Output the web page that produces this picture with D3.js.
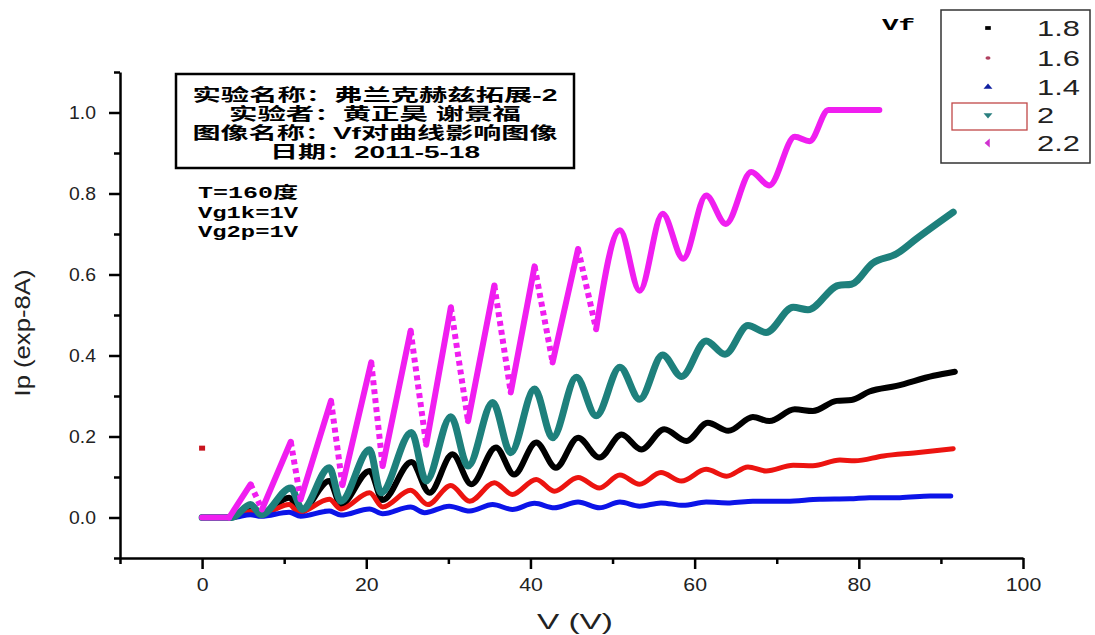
<!DOCTYPE html>
<html>
<head>
<meta charset="utf-8">
<script src="https://cdn.jsdelivr.net/npm/d3@7"></script>
<style>
  html, body { margin: 0; padding: 0; background: #fff; }
  svg { display: block; }
</style>
</head>
<body>
<svg id="chart" width="1095" height="635"></svg>
<script>
// Franck-Hertz curves, plate current Ip (1e-8 A) against accelerating voltage V (V),
// one series per filament voltage Vf. Each entry is [V, Ip].
const vf18 = [[0,0],[3.5,0],[5.9,0.02],[7.2,0.01],[10.6,0.049],[12.0,0.014],[15.5,0.09],[16.9,0.032],
  [20.4,0.115],[22.0,0.043],[25.5,0.137],[27.7,0.061],[30.5,0.156],[32.8,0.082],[35.8,0.173],[38.0,0.106],
  [40.7,0.185],[43.1,0.123],[45.8,0.197],[48.4,0.148],[51.1,0.205],[53.5,0.168],[56.3,0.218],[59.0,0.189],
  [61.6,0.234],[64.1,0.214],[67.1,0.248],[69.1,0.238],[72.2,0.267],[74.4,0.263],[77.3,0.288],[79.1,0.29],
  [81.3,0.311],[84.6,0.325],[89.1,0.35],[91.7,0.36]];

const vf16 = [[0,0],[3.8,0],[5.9,0.015],[7.2,0.008],[10.6,0.032],[11.8,0.012],[15.5,0.045],[16.9,0.021],
  [20.4,0.061],[22.0,0.026],[25.4,0.067],[27.5,0.032],[30.3,0.079],[32.6,0.04],[35.6,0.086],[37.8,0.057],
  [40.7,0.094],[42.9,0.065],[45.8,0.099],[48.4,0.073],[50.9,0.105],[53.3,0.082],[55.9,0.111],[58.4,0.09],
  [61.4,0.119],[63.9,0.102],[66.5,0.125],[68.7,0.115],[72.0,0.129],[74.4,0.128],[77.7,0.142],[79.5,0.14],
  [83.0,0.152],[87.0,0.16],[91.5,0.17]];

// stray reading of the 1.6 run at V = 0
const vf16Stray = [[0,0.17]];

const vf14 = [[0,0],[3.7,0],[5.9,0.007],[7.2,0.003],[10.6,0.013],[12.0,0.003],[15.5,0.016],[16.9,0.006],
  [20.4,0.021],[22.0,0.009],[25.4,0.026],[27.1,0.012],[30.1,0.028],[32.6,0.016],[35.4,0.032],[37.8,0.02],
  [40.5,0.035],[42.9,0.024],[45.8,0.038],[48.4,0.024],[50.9,0.038],[53.3,0.028],[55.9,0.036],[58.6,0.03],
  [61.4,0.038],[64.3,0.036],[67.1,0.04],[71.2,0.04],[75.2,0.045],[78.9,0.046],[81.3,0.049],[85.0,0.049],
  [88.7,0.053],[91.2,0.053]];

const vf20 = [[0,0],[3.6,0],[5.9,0.032],[7.2,0.007],[10.8,0.073],[12.2,0.02],[15.5,0.123],[16.9,0.04],
  [20.4,0.167],[21.8,0.061],[25.5,0.21],[27.3,0.09],[30.3,0.249],[32.4,0.127],[35.4,0.284],[37.6,0.16],
  [40.5,0.317],[42.7,0.197],[45.6,0.346],[48.0,0.251],[50.9,0.371],[53.3,0.292],[56.1,0.401],[58.4,0.348],
  [61.4,0.436],[63.7,0.403],[66.5,0.474],[68.7,0.457],[72.0,0.519],[73.8,0.513],[77.5,0.573],[79.1,0.576],
  [81.7,0.628],[84.6,0.651],[87.0,0.688],[91.5,0.754]];

const vf22 = [[0,0],[3.3,0],[5.9,0.082],[7.3,0.02],[10.8,0.187],[12.0,0.045],[15.7,0.288],[17.1,0.08],
  [20.6,0.383],[22.0,0.127],[25.4,0.461],[27.3,0.18],[30.3,0.519],[32.4,0.238],[35.6,0.573],[37.6,0.309],
  [40.5,0.62],[42.7,0.383],[45.8,0.663],[48.0,0.465],[50.9,0.709],[53.3,0.56],[56.1,0.75],[58.6,0.639],
  [61.4,0.795],[63.8,0.725],[66.9,0.853],[69.1,0.82],[72.2,0.94],[74.0,0.929],[76.3,1.006],[82.5,1.006]];

const legendLabels = ["1.8", "1.6", "1.4", "2", "2.2"];
const xMajorTicks = [0, 20, 40, 60, 80, 100];
const xMinorTicks = [-10, 10, 30, 50, 70, 90];
const yMajorTicks = [0, 0.2, 0.4, 0.6, 0.8, 1.0];
const yMinorTicks = [-0.1, 0.1, 0.3, 0.5, 0.7, 0.9, 1.1];

const titleLines = ["实验名称：弗兰克赫兹拓展-2", "实验者：黄正昊 谢景福", "图像名称：Vf对曲线影响图像", "日期：2011-5-18"];
const conditionLines = ["T=160度", "Vg1k=1V", "Vg2p=1V"];

const svg = d3.select("#chart");

const x = d3.scaleLinear().domain([-10, 100]).range([120, 1023]);
const y = d3.scaleLinear().domain([-0.1, 1.1]).range([558, 72]);

const SANS = "'Liberation Sans', Arial, sans-serif";

// stretch text horizontally by factor k (or to an absolute width)
function stretch(sel, k) {
  sel.each(function () {
    const n = this.getComputedTextLength();
    d3.select(this).attr("textLength", n * k).attr("lengthAdjust", "spacingAndGlyphs");
  });
}
function fitWidth(sel, w) {
  sel.attr("textLength", w).attr("lengthAdjust", "spacingAndGlyphs");
}

// ---------- axes ----------
const gx = svg.append("g").attr("transform", `translate(0,${y(-0.1)})`);
gx.call(d3.axisBottom(x).tickValues(xMajorTicks).tickSize(11).tickSizeOuter(0).tickPadding(9).tickFormat(d3.format("d")));
gx.append("g").call(d3.axisBottom(x).tickValues(xMinorTicks).tickSize(6).tickSizeOuter(0).tickFormat(""))
  .select(".domain").remove();

const gy = svg.append("g").attr("transform", `translate(${x(-10)},0)`);
gy.call(d3.axisLeft(y).tickValues(yMajorTicks).tickSize(11).tickSizeOuter(0).tickPadding(13).tickFormat(d3.format(".1f")));
gy.append("g").call(d3.axisLeft(y).tickValues(yMinorTicks).tickSize(6).tickSizeOuter(0).tickFormat(""))
  .select(".domain").remove();

svg.selectAll(".domain").attr("stroke", "#000").attr("stroke-width", 2.5);
svg.selectAll(".tick line").attr("stroke", "#000").attr("stroke-width", 2.5);
svg.selectAll(".tick text").attr("fill", "#222").style("font-family", SANS).style("font-size", "19px");
gx.selectAll(".tick text").call(stretch, 1.12);
gy.selectAll(".tick text").call(stretch, 1.02);

// axis titles
svg.append("text").attr("x", 575).attr("y", 629).attr("text-anchor", "middle")
  .style("font-family", SANS).style("font-size", "22px").attr("fill", "#222")
  .text("V (V)").call(fitWidth, 76);
svg.append("text").attr("transform", "translate(30,333) rotate(-90)").attr("text-anchor", "middle")
  .style("font-family", SANS).style("font-size", "22px").attr("fill", "#222")
  .text("Ip (exp-8A)").call(fitWidth, 127);

// ---------- curves ----------
const lineSmooth = d3.line().x(d => x(d[0])).y(d => y(d[1])).curve(d3.curveMonotoneX);
const lineStraight = d3.line().x(d => x(d[0])).y(d => y(d[1]));

const plot = svg.append("g");
const seriesStyle = [
  { data: vf18, color: "#000000", width: 6 },
  { data: vf16, color: "#ec1410", width: 5 },
  { data: vf14, color: "#0c14e8", width: 5 },
  { data: vf20, color: "#1e807c", width: 7 }
];
seriesStyle.forEach(s => {
  plot.append("path").datum(s.data).attr("d", lineSmooth)
    .attr("fill", "none").attr("stroke", s.color).attr("stroke-width", s.width)
    .attr("stroke-linejoin", "round").attr("stroke-linecap", "round");
});

// stray 1.6 reading
plot.selectAll(".stray").data(vf16Stray).join("rect").attr("class", "stray")
  .attr("x", d => x(d[0]) - 3).attr("y", d => y(d[1]) - 3).attr("width", 6).attr("height", 5)
  .attr("fill", "#c8141e");

// Vf = 2.2: the steep falling edges of the early oscillations are sparse (dotted),
// the rest of the run is dense
const magenta = "#f01ef0";
const splitV = 48.0;
const early = vf22.filter(d => d[0] <= splitV);
const late = vf22.filter(d => d[0] >= splitV);
for (let i = 0; i < early.length - 1; i++) {
  const seg = [early[i], early[i + 1]];
  const falling = seg[1][1] < seg[0][1];
  const p = plot.append("path").datum(seg).attr("d", lineStraight)
    .attr("fill", "none").attr("stroke", magenta).attr("stroke-width", 6);
  if (falling) p.attr("stroke-dasharray", "5 4");
  else p.attr("stroke-linecap", "round");
}
plot.append("path").datum(late).attr("d", lineSmooth)
  .attr("fill", "none").attr("stroke", magenta).attr("stroke-width", 6)
  .attr("stroke-linejoin", "round").attr("stroke-linecap", "round");

// ---------- title box ----------
svg.append("rect").attr("x", 176).attr("y", 74).attr("width", 398).attr("height", 94)
  .attr("fill", "#fff").attr("stroke", "#000").attr("stroke-width", 2.5);
const titleWidths = [365, 292, 365, 210];
const titleY = [95, 114, 133, 152];
titleLines.forEach((t, i) => {
  svg.append("text").attr("x", 375).attr("y", titleY[i] + 6).attr("text-anchor", "middle")
    .style("font-family", "'Liberation Sans', 'Noto Sans CJK SC', sans-serif")
    .style("font-weight", 700).style("font-size", "16.5px")
    .attr("fill", "#000").text(t).call(fitWidth, titleWidths[i]);
});

const condY = [193, 213, 232];
conditionLines.forEach((t, i) => {
  svg.append("text").attr("x", 198).attr("y", condY[i] + 5)
    .style("font-family", "'Liberation Mono', 'Noto Sans CJK SC', monospace").style("font-weight", 700).style("font-size", "16px")
    .attr("fill", "#000").text(t).call(fitWidth, 100);
});

// ---------- legend ----------
svg.append("text").attr("x", 882).attr("y", 25).attr("dominant-baseline", "central")
  .style("font-family", "'Liberation Mono', monospace").style("font-weight", 700).style("font-size", "17px")
  .attr("fill", "#000").text("Vf").call(fitWidth, 33);

svg.append("rect").attr("x", 941).attr("y", 10).attr("width", 149).attr("height", 153)
  .attr("fill", "#fff").attr("stroke", "#333").attr("stroke-width", 1.5);

const legendY = [28, 58, 87, 115, 143];
const legendColors = ["#000000", "#b04060", "#1020a0", "#2a7f7f", "#d030d0"];
const legendSymbols = [
  { type: d3.symbolSquare, size: 22, rot: 0 },
  { type: d3.symbolCircle, size: 14, rot: 0 },
  { type: d3.symbolTriangle, size: 24, rot: 0 },
  { type: d3.symbolTriangle, size: 24, rot: 180 },
  { type: d3.symbolTriangle, size: 24, rot: -90 }
];
svg.append("rect").attr("x", 952).attr("y", 103).attr("width", 75).attr("height", 27)
  .attr("fill", "none").attr("stroke", "#c04848").attr("stroke-width", 1.3);

legendLabels.forEach((lab, i) => {
  const s = legendSymbols[i];
  svg.append("path").attr("d", d3.symbol().type(s.type).size(s.size)())
    .attr("transform", `translate(988,${legendY[i]}) rotate(${s.rot}) scale(1.2,0.8)`)
    .attr("fill", legendColors[i]);
  svg.append("text").attr("x", 1037).attr("y", legendY[i]).attr("dominant-baseline", "central")
    .style("font-family", SANS).style("font-size", "22px").attr("fill", "#222")
    .text(lab).call(stretch, 1.4);
});
</script>
</body>
</html>
